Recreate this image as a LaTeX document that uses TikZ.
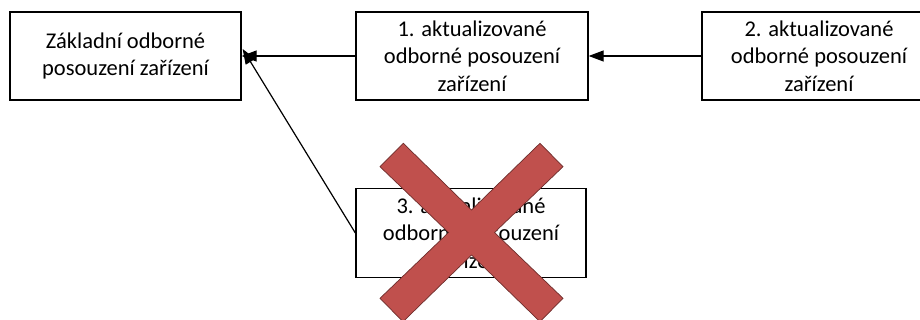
\documentclass[tikz,border=0pt]{standalone}
\usepackage{fontspec}
\setmainfont{Carlito}
\usetikzlibrary{arrows.meta}
\definecolor{xred}{RGB}{192,80,77}
\definecolor{xedge}{RGB}{110,45,43}
\begin{document}
\begin{tikzpicture}[x=1pt,y=-1pt,
  box/.style={draw=black,line width=1.3pt,fill=white,minimum height=88pt,inner sep=0pt,align=center,font=\fontsize{22.5}{27.5}\selectfont},
  conn/.style={line width=1.2pt,-{Triangle[length=15pt,width=11pt]}}]
\useasboundingbox (0,0) rectangle (920,320);
\clip (0,0) rectangle (920,320);
\node[box,minimum width=231pt] (a) at (125.5,56) {Základní odborné\\posouzení zařízení};
\node[box,minimum width=232pt] (b) at (472,56) {1. aktualizované\\odborné posouzení\\zařízení};
\node[box,minimum width=234pt] (c) at (819,56) {2. aktualizované\\odborné posouzení\\zařízení};
\node[box,minimum width=230pt,minimum height=89pt] (d) at (471,233) {3. aktualizované\\odborné posouzení\\zařízení};
\draw[conn] (b) -- (a);
\draw[conn] (c) -- (b);
\draw[conn] (d.west) -- ([xshift=1pt,yshift=7pt]a.east);
\fill[xred,draw=xedge,line width=0.7pt]
  (471.5,210) -- (540,143.3) -- (563,166.7) -- (494.5,232.5) -- (563,298.3) -- (540,321.7)
  -- (471.5,255) -- (403,321.7) -- (380,298.3) -- (448.5,232.5) -- (380,166.7) -- (403.3,143.3) -- cycle;
\end{tikzpicture}
\end{document}
